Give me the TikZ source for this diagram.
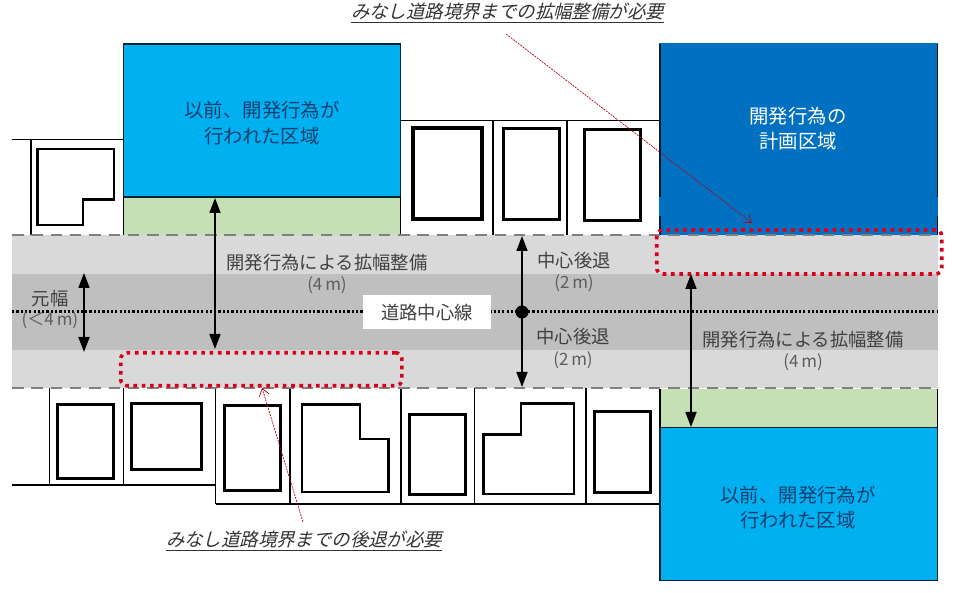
\documentclass[tikz,border=0pt]{standalone}
\usepackage{fontspec}
\setmainfont{Noto Sans CJK JP}
\newfontfamily\slantfont[FakeSlant=0.25]{Noto Sans CJK JP}
\usetikzlibrary{arrows.meta}

\definecolor{roadlight}{HTML}{D9D9D9}
\definecolor{roaddark}{HTML}{BFBFBF}
\definecolor{setback}{HTML}{C5E0B4}
\definecolor{pastarea}{HTML}{00B0F0}
\definecolor{planarea}{HTML}{0070C0}
\definecolor{zonered}{HTML}{D8001A}
\definecolor{pasttext}{HTML}{0C3F70}
\definecolor{roadtext}{HTML}{404040}

\tikzset{
    lotline/.style={line width=1.4pt, black},
    house/.style={line width=3pt, black, fill=white},
    houselight/.style={line width=2.4pt, black, fill=white},
    boundary/.style={line width=2.2pt, color=black!50, dash pattern=on 11.5pt off 7.8pt},
    zone/.style={line width=3.6pt, zonered, dash pattern=on 3.6pt off 4.7pt, rounded corners=6pt},
    span/.style={line width=1.7pt, {Stealth[length=15pt,width=11pt,inset=0pt]}-{Stealth[length=15pt,width=11pt,inset=0pt]}},
    callout/.style={line width=0.7pt, zonered!85!black, dash pattern=on 2pt off 1pt, -{Straight Barb[length=7pt,width=10pt]}},
    roadlabel/.style={font=\fontsize{18.3}{18.3}\selectfont, text=roadtext, inner sep=0pt},
    widthlabel/.style={font=\fontsize{17}{17}\selectfont, text=roadtext!85, inner sep=0pt},
    arealabel/.style={font=\fontsize{19.4}{25.5}\selectfont, align=center, inner sep=0pt},
    notelabel/.style={font=\fontsize{18.4}{18.4}\slantfont, text=black!80, inner sep=0pt}
}

\begin{document}
\begin{tikzpicture}[x=1pt, y=-1pt]
\useasboundingbox (0,0) rectangle (959,593);

% road
\fill[roadlight] (12,235) rectangle (938,388);
\fill[roaddark] (12,274) rectangle (938,350);
\draw[line width=2.4pt, dash pattern=on 2.2pt off 2.1pt] (12,311.7) -- (938,311.7);

% lots on the north side
\draw[lotline] (12,139.5) -- (123.5,139.5);
\draw[lotline] (31,139.5) -- (31,235);
\draw[lotline] (400.5,120.5) -- (660,120.5);
\draw[lotline] (493,120.5) -- (493,235);
\draw[lotline] (567,120.5) -- (567,235);
\draw[houselight] (37.5,149) -- (114,149) -- (114,199.5) -- (83,199.5) -- (83,225) -- (37.5,225) -- cycle;
\draw[house, line width=3.6pt] (413,128) rectangle (482,219);
\draw[house] (503,129) rectangle (559,220);
\draw[house] (584.5,130) rectangle (640.5,221);

% lots on the south side
\draw[lotline] (12,485) -- (215.7,485);
\draw[lotline] (215.7,504) -- (660,504);
\foreach \lotx/\loty in {49.3/485, 123.3/485, 215.7/504, 290/504, 401/504, 474.7/504, 586/504}
    \draw[lotline] (\lotx,388) -- (\lotx,\loty);
\foreach \housel/\houset/\houser/\houseb in {57.7/405/113.3/479, 131.7/404/201.7/470, 224.3/406/280.7/491, 409.3/414.3/465/495, 594/411.3/650/493}
    \draw[house] (\housel,\houset) rectangle (\houser,\houseb);
\draw[houselight] (302,404.7) -- (360,404.7) -- (360,439) -- (388.3,439) -- (388.3,492.3) -- (302,492.3) -- cycle;
\draw[houselight] (483.3,434.7) -- (520.7,434.7) -- (520.7,403.7) -- (574,403.7) -- (574,494) -- (483.3,494) -- cycle;

% areas
\fill[setback] (123.5,197) rectangle (400.5,235);
\draw[lotline, fill=pastarea, draw=black!80!pastarea] (123.5,44) rectangle (400.5,197);
\draw[lotline] (123.5,197) -- (123.5,235);
\draw[lotline] (400.5,197) -- (400.5,235);
\fill[planarea] (659.3,43.5) rectangle (938.4,235);
\draw[lotline, draw=black!80!planarea] (660,44) -- (660,197);
\draw[lotline, draw=black!80!planarea] (937.7,44) -- (937.7,197);
\draw[lotline, draw=black!80!planarea] (660,216) -- (660,235);
\draw[lotline, draw=black!80!planarea] (937.7,216) -- (937.7,235);
\fill[setback] (660,389) rectangle (937.7,427.7);
\draw[lotline, fill=pastarea, draw=black!80!pastarea] (660,427.7) rectangle (937.7,580.7);
\draw[lotline] (660,389) -- (660,427.7);
\draw[lotline] (937.7,389) -- (937.7,427.7);

% road edges
\draw[boundary] (12,235) -- (938,235);
\draw[boundary] (12,388) -- (938,388);

% labels
\node[arealabel, text=pasttext] (pastnorth) at (262,123) {以前、開発行為が\\行われた区域};
\node[arealabel, text=white] (plan) at (798,128.5) {開発行為の\\計画区域};
\node[arealabel, text=pasttext] (pastsouth) at (798,507.5) {以前、開発行為が\\行われた区域};
\node[roadlabel] (widenwest) at (327,263) {開発行為による拡幅整備};
\node[widthlabel] (widenwestm) at (327,285) {(4\,m)};
\node[roadlabel] (wideneast) at (803,340) {開発行為による拡幅整備};
\node[widthlabel] (wideneastm) at (803,362) {(4\,m)};
\node[roadlabel] (retreatnorth) at (574,261) {中心後退};
\node[widthlabel] (retreatnorthm) at (574,283) {(2\,m)};
\node[roadlabel] (retreatsouth) at (573,337) {中心後退};
\node[widthlabel] (retreatsouthm) at (573,360) {(2\,m)};
\node[roadlabel] (origin) at (50,299) {元幅};
\node[widthlabel] (originm) at (50,320) {(＜4\,m)};
\node[roadlabel, fill=white, minimum width=128pt, minimum height=34pt] (centreline) at (427,312.5) {道路中心線};
\node[notelabel] (notenorth) at (507.5,13) {\underline{みなし道路境界までの拡幅整備が必要}};
\node[notelabel] (notesouth) at (304,541) {\underline{みなし道路境界までの後退が必要}};

% red zones
\node[zone, draw, minimum width=281pt, minimum height=33pt, inner sep=0pt] (zonewest) at (261.3,369.3) {};
\node[zone, draw, minimum width=285pt, minimum height=44pt, inner sep=0pt] (zoneeast) at (799.2,252) {};

% dimension arrows
\coordinate (westtop) at (215,198);
\coordinate (westbottom) at (215,349);
\coordinate (origintop) at (84,273);
\coordinate (originbottom) at (84,352);
\coordinate (centretop) at (522,236);
\coordinate (centrebottom) at (522,387);
\coordinate (easttop) at (691,274);
\coordinate (eastbottom) at (691,427);
\draw[span] (westtop) -- (westbottom);
\draw[span] (origintop) -- (originbottom);
\draw[span] (centretop) -- (centrebottom);
\draw[span] (easttop) -- (eastbottom);
\fill (522,312) circle (6.5pt);

% pointers
\coordinate (notenorthend) at (506,34);
\coordinate (zoneeastend) at (752,223);
\coordinate (notesouthend) at (303,522);
\coordinate (zonewestend) at (262,388);
\draw[callout] (notenorthend) -- (zoneeastend);
\draw[callout] (notesouthend) -- (zonewestend);
\end{tikzpicture}
\end{document}
